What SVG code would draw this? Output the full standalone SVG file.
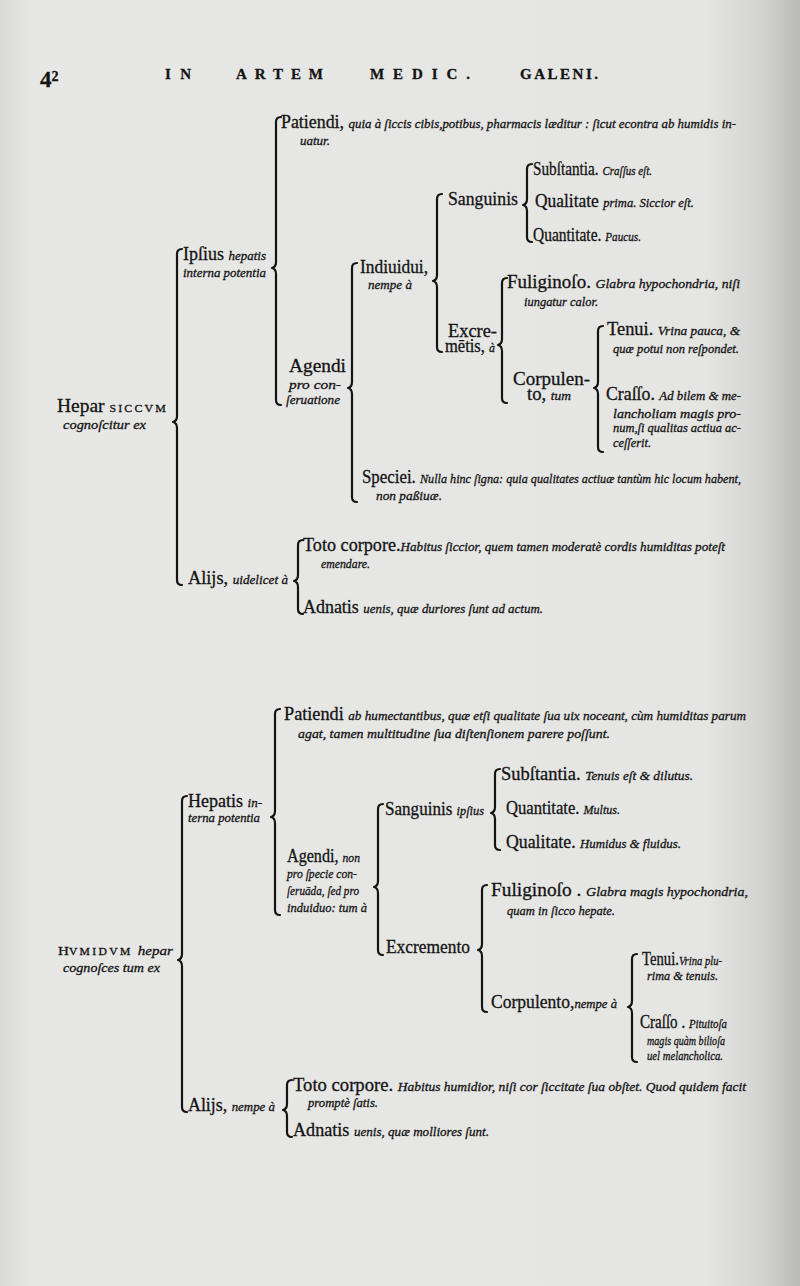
<svg xmlns="http://www.w3.org/2000/svg" width="800" height="1286" viewBox="0 0 800 1286">
<defs>
<linearGradient id="paper" x1="0" y1="0" x2="1" y2="0">
<stop offset="0" stop-color="#d9d9d7"/>
<stop offset="0.04" stop-color="#e7e7e5"/>
<stop offset="0.88" stop-color="#e5e5e3"/>
<stop offset="0.95" stop-color="#d4d4d2"/>
<stop offset="1" stop-color="#b9b9b7"/>
</linearGradient>
<style>
text{font-family:"Liberation Serif","DejaVu Serif",serif;fill:#141414;stroke:#141414;stroke-width:0.3}
.r{font-size:18px}
.i{font-size:13px;font-style:italic}
.sc{font-size:11px;letter-spacing:2px}
.hd{font-size:15px;font-weight:bold}
.br{fill:none;stroke:#141414;stroke-width:2.2;stroke-linecap:round;stroke-linejoin:round}
</style>
</defs>
<rect x="0" y="0" width="800" height="1286" fill="url(#paper)"/>

<g id="header">
<text x="40" y="87" style="font-size:23px;font-weight:bold">4<tspan style="font-size:14px" dy="-6">2</tspan></text>
<text class="hd" x="165" y="79" textLength="26" lengthAdjust="spacing">IN</text>
<text class="hd" x="236" y="79" textLength="87" lengthAdjust="spacing">ARTEM</text>
<text class="hd" x="370" y="79" textLength="100" lengthAdjust="spacing">MEDIC.</text>
<text class="hd" x="520" y="79" textLength="78" lengthAdjust="spacing">GALENI.</text>
</g>

<g id="connectors">
<path class="br" d="M182,249 Q177,249 177,254 L177,416 Q177,421 173,422 Q177,423 177,428 L177,580 Q177,585 182,585"/>
<path class="br" d="M281,117 Q276,117 276,122 L276,262 Q276,267 272,268 Q276,269 276,274 L276,400 Q276,405 281,405"/>
<path class="br" d="M357,263 Q352,263 352,268 L352,382 Q352,387 348,388 Q352,389 352,394 L352,497 Q352,502 357,502"/>
<path class="br" d="M442,194 Q437,194 437,199 L437,275 Q437,280 433,281 Q437,282 437,287 L437,347 Q437,352 442,352"/>
<path class="br" d="M532,164 Q527,164 527,169 L527,199 Q527,204 523,205 Q527,206 527,211 L527,237 Q527,242 532,242"/>
<path class="br" d="M507,278 Q502,278 502,283 L502,339 Q502,344 498,345 Q502,346 502,351 L502,398 Q502,403 507,403"/>
<path class="br" d="M603,326 Q598,326 598,331 L598,382 Q598,387 594,388 Q598,389 598,394 L598,447 Q598,452 603,452"/>
<path class="br" d="M303,540 Q298,540 298,545 L298,575 Q298,580 294,581 Q298,582 298,587 L298,609 Q298,614 303,614"/>

<path class="br" d="M187,796 Q182,796 182,801 L182,954 Q182,959 178,960 Q182,961 182,966 L182,1107 Q182,1112 187,1112"/>
<path class="br" d="M280,709 Q275,709 275,714 L275,811 Q275,816 271,817 Q275,818 275,823 L275,910 Q275,915 280,915"/>
<path class="br" d="M383,804 Q378,804 378,809 L378,881 Q378,886 374,887 Q378,888 378,893 L378,950 Q378,955 383,955"/>
<path class="br" d="M500,769 Q495,769 495,774 L495,807 Q495,812 491,813 Q495,814 495,819 L495,845 Q495,850 500,850"/>
<path class="br" d="M487,885 Q482,885 482,890 L482,944 Q482,949 478,950 Q482,951 482,956 L482,1007 Q482,1012 487,1012"/>
<path class="br" d="M637,954 Q632,954 632,959 L632,1001 Q632,1006 628,1007 Q632,1008 632,1013 L632,1057 Q632,1062 637,1062"/>
<path class="br" d="M292,1080 Q287,1080 287,1085 L287,1104 Q287,1109 283,1110 Q287,1111 287,1116 L287,1132 Q287,1137 292,1137"/>
</g>

<!-- Upper tree -->
<g id="n-hepar-siccum">
<text class="r" x="57" y="412" textLength="111" lengthAdjust="spacingAndGlyphs">Hepar <tspan class="sc">SICCVM</tspan></text>
<text class="i" x="63" y="429" textLength="83" lengthAdjust="spacingAndGlyphs">cognoſcitur ex</text>
</g>
<g id="n-ipsius">
<text class="r" x="183" y="260" textLength="83" lengthAdjust="spacingAndGlyphs">Ipſius <tspan class="i">hepatis</tspan></text>
<text class="i" x="183" y="277" textLength="83" lengthAdjust="spacingAndGlyphs">interna potentia</text>
</g>
<g id="n-patiendi-1">
<text class="r" x="281" y="128" textLength="455" lengthAdjust="spacingAndGlyphs">Patiendi, <tspan class="i">quia à ſiccis cibis,potibus, pharmacis læditur : ſicut econtra ab humidis in-</tspan></text>
<text class="i" x="300" y="145" textLength="30" lengthAdjust="spacingAndGlyphs">uatur.</text>
</g>
<g id="n-agendi-1">
<text class="r" x="289" y="372" textLength="57" lengthAdjust="spacingAndGlyphs">Agendi</text>
<text class="i" x="289" y="389" textLength="52" lengthAdjust="spacingAndGlyphs">pro  con-</text>
<text class="i" x="286" y="404" textLength="54" lengthAdjust="spacingAndGlyphs">ſeruatione</text>
</g>
<g id="n-indiuidui">
<text class="r" x="360" y="273" textLength="68" lengthAdjust="spacingAndGlyphs">Indiuidui,</text>
<text class="i" x="368" y="289" textLength="44" lengthAdjust="spacingAndGlyphs">nempe à</text>
</g>
<g id="n-sanguinis-1">
<text class="r" x="448" y="205" textLength="70" lengthAdjust="spacingAndGlyphs">Sanguinis</text>
</g>
<g id="n-substantia-1">
<text class="r" x="533" y="175" textLength="119" lengthAdjust="spacingAndGlyphs">Subſtantia. <tspan class="i">Craſſus eſt.</tspan></text>
</g>
<g id="n-qualitate-1">
<text class="r" x="535" y="207" textLength="159" lengthAdjust="spacingAndGlyphs">Qualitate <tspan class="i">prima. Siccior eſt.</tspan></text>
</g>
<g id="n-quantitate-1">
<text class="r" x="533" y="241" textLength="108" lengthAdjust="spacingAndGlyphs">Quantitate. <tspan class="i">Paucus.</tspan></text>
</g>
<g id="n-excrementis">
<text class="r" x="448" y="337" textLength="49" lengthAdjust="spacingAndGlyphs">Excre-</text>
<text class="r" x="445" y="352" textLength="50" lengthAdjust="spacingAndGlyphs">mētis, <tspan class="i">à</tspan></text>
</g>
<g id="n-fuliginoso-1">
<text class="r" x="507" y="288" textLength="233" lengthAdjust="spacingAndGlyphs">Fuliginoſo. <tspan class="i">Glabra hypochondria, niſi</tspan></text>
<text class="i" x="524" y="306" textLength="74" lengthAdjust="spacingAndGlyphs">iungatur calor.</text>
</g>
<g id="n-corpulento-1">
<text class="r" x="513" y="385" textLength="77" lengthAdjust="spacingAndGlyphs">Corpulen-</text>
<text class="r" x="527" y="400" textLength="44" lengthAdjust="spacingAndGlyphs">to, <tspan class="i">tum</tspan></text>
</g>
<g id="n-tenui-1">
<text class="r" x="607" y="335" textLength="133" lengthAdjust="spacingAndGlyphs">Tenui. <tspan class="i">Vrina pauca, &amp;</tspan></text>
<text class="i" x="613" y="353" textLength="126" lengthAdjust="spacingAndGlyphs">quæ potui non reſpondet.</text>
</g>
<g id="n-crasso-1">
<text class="r" x="606" y="400" textLength="135" lengthAdjust="spacingAndGlyphs">Craſſo. <tspan class="i">Ad bilem &amp; me-</tspan></text>
<text class="i" x="613" y="418" textLength="128" lengthAdjust="spacingAndGlyphs">lancholiam  magis  pro-</text>
<text class="i" x="613" y="432" textLength="128" lengthAdjust="spacingAndGlyphs">num,ſi qualitas actiua ac-</text>
<text class="i" x="613" y="447" textLength="38" lengthAdjust="spacingAndGlyphs">ceſſerit.</text>
</g>
<g id="n-speciei">
<text class="r" x="362" y="483" textLength="379" lengthAdjust="spacingAndGlyphs">Speciei. <tspan class="i">Nulla hinc ſigna: quia qualitates actiuæ tantùm hic locum habent,</tspan></text>
<text class="i" x="376" y="500" textLength="66" lengthAdjust="spacingAndGlyphs">non paßiuæ.</text>
</g>
<g id="n-alijs-1">
<text class="r" x="188" y="584" textLength="100" lengthAdjust="spacingAndGlyphs">Alijs, <tspan class="i">uidelicet à</tspan></text>
</g>
<g id="n-toto-1">
<text class="r" x="303" y="551" textLength="422" lengthAdjust="spacingAndGlyphs">Toto corpore.<tspan class="i">Habitus ſiccior, quem tamen moderatè cordis humiditas poteſt</tspan></text>
<text class="i" x="321" y="568" textLength="49" lengthAdjust="spacingAndGlyphs">emendare.</text>
</g>
<g id="n-adnatis-1">
<text class="r" x="303" y="613" textLength="240" lengthAdjust="spacingAndGlyphs">Adnatis <tspan class="i">uenis, quæ duriores ſunt ad actum.</tspan></text>
</g>

<!-- Lower tree -->
<g id="n-humidum">
<text class="r" x="58" y="955" textLength="115" lengthAdjust="spacingAndGlyphs"><tspan style="font-size:13px">H</tspan><tspan class="sc" style="font-size:10px">VMIDVM</tspan> <tspan class="i">hepar</tspan></text>
<text class="i" x="63" y="972" textLength="97" lengthAdjust="spacingAndGlyphs">cognoſces tum ex</text>
</g>
<g id="n-hepatis">
<text class="r" x="188" y="807" textLength="74" lengthAdjust="spacingAndGlyphs">Hepatis <tspan class="i">in-</tspan></text>
<text class="i" x="188" y="822" textLength="72" lengthAdjust="spacingAndGlyphs">terna potentia</text>
</g>
<g id="n-patiendi-2">
<text class="r" x="284" y="720" textLength="462" lengthAdjust="spacingAndGlyphs">Patiendi <tspan class="i">ab humectantibus, quæ etſi qualitate ſua uix noceant, cùm humiditas parum</tspan></text>
<text class="i" x="298" y="738" textLength="312" lengthAdjust="spacingAndGlyphs">agat, tamen multitudine ſua diſtenſionem parere poſſunt.</text>
</g>
<g id="n-agendi-2">
<text class="r" x="287" y="862" textLength="73" lengthAdjust="spacingAndGlyphs">Agendi, <tspan class="i">non</tspan></text>
<text class="i" x="287" y="878" textLength="70" lengthAdjust="spacingAndGlyphs">pro ſpecie con-</text>
<text class="i" x="287" y="895" textLength="72" lengthAdjust="spacingAndGlyphs">ſeruāda, ſed pro</text>
<text class="i" x="287" y="912" textLength="80" lengthAdjust="spacingAndGlyphs">induiduo: tum à</text>
</g>
<g id="n-sanguinis-2">
<text class="r" x="385" y="815" textLength="99" lengthAdjust="spacingAndGlyphs">Sanguinis <tspan class="i">ipſius</tspan></text>
</g>
<g id="n-substantia-2">
<text class="r" x="501" y="780" textLength="192" lengthAdjust="spacingAndGlyphs">Subſtantia. <tspan class="i">Tenuis eſt &amp; dilutus.</tspan></text>
</g>
<g id="n-quantitate-2">
<text class="r" x="506" y="814" textLength="114" lengthAdjust="spacingAndGlyphs">Quantitate. <tspan class="i">Multus.</tspan></text>
</g>
<g id="n-qualitate-2">
<text class="r" x="506" y="848" textLength="175" lengthAdjust="spacingAndGlyphs">Qualitate. <tspan class="i">Humidus &amp; fluidus.</tspan></text>
</g>
<g id="n-excremento">
<text class="r" x="386" y="953" textLength="84" lengthAdjust="spacingAndGlyphs">Excremento</text>
</g>
<g id="n-fuliginoso-2">
<text class="r" x="491" y="896" textLength="257" lengthAdjust="spacingAndGlyphs">Fuliginoſo . <tspan class="i">Glabra  magis  hypochondria,</tspan></text>
<text class="i" x="507" y="915" textLength="108" lengthAdjust="spacingAndGlyphs">quam in ſicco hepate.</text>
</g>
<g id="n-corpulento-2">
<text class="r" x="491" y="1008" textLength="126" lengthAdjust="spacingAndGlyphs">Corpulento,<tspan class="i">nempe à</tspan></text>
</g>
<g id="n-tenui-2">
<text class="r" x="642" y="965" textLength="80" lengthAdjust="spacingAndGlyphs">Tenui.<tspan class="i">Vrina plu-</tspan></text>
<text class="i" x="647" y="980" textLength="71" lengthAdjust="spacingAndGlyphs">rima &amp; tenuis.</text>
</g>
<g id="n-crasso-2">
<text class="r" x="640" y="1028" textLength="87" lengthAdjust="spacingAndGlyphs">Craſſo . <tspan class="i">Pituitoſa</tspan></text>
<text class="i" x="647" y="1045" textLength="78" lengthAdjust="spacingAndGlyphs">magis quàm bilioſa</text>
<text class="i" x="647" y="1060" textLength="76" lengthAdjust="spacingAndGlyphs">uel melancholica.</text>
</g>
<g id="n-alijs-2">
<text class="r" x="188" y="1111" textLength="87" lengthAdjust="spacingAndGlyphs">Alijs, <tspan class="i">nempe à</tspan></text>
</g>
<g id="n-toto-2">
<text class="r" x="293" y="1091" textLength="453" lengthAdjust="spacingAndGlyphs">Toto corpore. <tspan class="i">Habitus humidior, niſi cor ſiccitate ſua obſtet. Quod quidem facit</tspan></text>
<text class="i" x="308" y="1107" textLength="70" lengthAdjust="spacingAndGlyphs">promptè ſatis.</text>
</g>
<g id="n-adnatis-2">
<text class="r" x="293" y="1136" textLength="196" lengthAdjust="spacingAndGlyphs">Adnatis <tspan class="i">uenis, quæ molliores ſunt.</tspan></text>
</g>
</svg>
